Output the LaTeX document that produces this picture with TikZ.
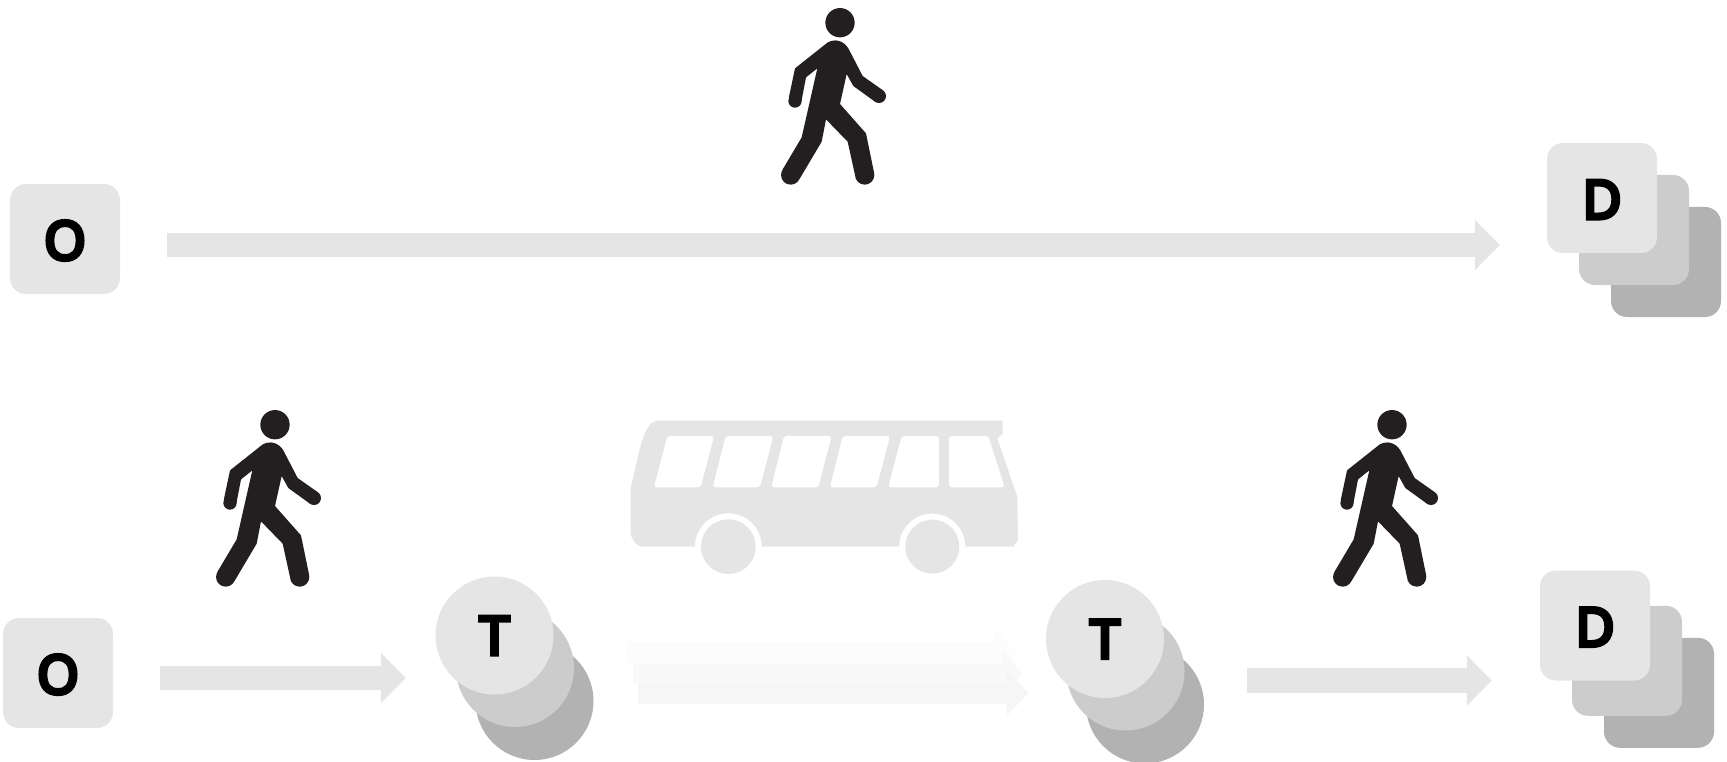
\documentclass[tikz,border=0pt]{standalone}
\usepackage{fontspec}
\setmainfont{Open Sans}
\newfontfamily\kartenfont[FakeBold=8]{Open Sans}
\usetikzlibrary{arrows.meta}
\definecolor{hellgrau}{RGB}{229,229,229}
\definecolor{mittelgrau}{RGB}{204,204,204}
\definecolor{dunkelgrau}{RGB}{178,178,178}
\definecolor{mygrey}{RGB}{35,31,32}
\definecolor{fahrta}{RGB}{252,252,252}
\definecolor{fahrtb}{RGB}{249,249,249}
\definecolor{fahrtc}{RGB}{246,246,246}
\tikzset{
	karte/.style={rounded corners=16pt, minimum size=110pt, inner sep=0pt, text=black, font=\fontsize{53}{60}\kartenfont, text height=41pt, text depth=0pt},
	kreis/.style={circle, minimum size=118pt, inner sep=0pt, text=black, font=\fontsize{53}{60}\kartenfont, text height=38pt, text depth=0pt},
	pfeil/.style={color=hellgrau, line width=24.6pt, -{Triangle[length=25pt,width=49pt]}},
	fahrt/.style={line width=21pt, -{Triangle[length=22pt,width=44pt]}},
	walker/.pic={
		\begin{scope}[x=.3333pt, y=-.3333pt, shift={(-300,-68)}, fill=mygrey]
			\fill (300,68) circle (44);
			\fill[rounded corners=.6pt] (262,128) .. controls (285,115) and (310,122) .. (325,145) -- (368,228) -- (429,271)
				-- (405,305) -- (340,258) -- (320,222) -- (300,312)
				-- (378,400) -- (403,522) -- (345,525) -- (323,425)
				-- (258,358) -- (245,425) -- (178,538) -- (127,510)
				-- (185,412) -- (232,205) -- (198,232) -- (184,305) -- (146,295)
				-- (165,205) -- cycle;
			% Haende und Fuesse
			\foreach \x/\y/\r in {417/288/21,165/303/20,374/525/29,152/525/29}
				\fill (\x,\y) circle (\r);
		\end{scope}
	}
}
\begin{document}
\begin{tikzpicture}[x=1pt, y=-1pt, >=latex]
				\useasboundingbox (0,0) rectangle (1727,762);
				\clip (0,0) rectangle (1727,762); %Bildbereich
				% Fussgaenger
				\pic (walkoben) at (840,22.7) {walker};
				\pic (walklinks) at (275,424.7) {walker};
				\pic (walkrechts) at (1392,424.7) {walker};
				% Ursprung
				\node[karte, fill=hellgrau] (o1) at (65,239) {O};
				\node[karte, fill=hellgrau] (o2) at (58,673) {O};
				% Ziele oben
				\node[karte, fill=dunkelgrau] (d1c) at (1666,262) {};
				\node[karte, fill=mittelgrau] (d1b) at (1634,230) {};
				\node[karte, fill=hellgrau] (d1) at (1602,198) {D};
				% Ziele unten
				\node[karte, fill=dunkelgrau] (d2c) at (1659,692.8) {};
				\node[karte, fill=mittelgrau] (d2b) at (1627,660.8) {};
				\node[karte, fill=hellgrau] (d2) at (1595,625.5) {D};
				% Umstiege
				\node[kreis, fill=dunkelgrau] (t1c) at (534.5,701) {};
				\node[kreis, fill=mittelgrau] (t1b) at (515,668) {};
				\node[kreis, fill=hellgrau] (t1) at (494.5,635.5) {T};
				\node[kreis, fill=dunkelgrau] (t2c) at (1145,704.5) {};
				\node[kreis, fill=mittelgrau] (t2b) at (1125.5,671.5) {};
				\node[kreis, fill=hellgrau] (t2) at (1105,639) {T};
				% Pfeile
				\draw[pfeil] ([xshift=47pt,yshift=-6pt]o1.east) -- ([xshift=-47pt,yshift=-47pt]d1.west);
				\draw[pfeil] ([xshift=47pt,yshift=-5pt]o2.east) -- ([xshift=-29.5pt,yshift=-42.5pt]t1.west);
				\draw[pfeil] ([xshift=83pt,yshift=-41.5pt]t2.east) -- ([xshift=-48pt,yshift=-55pt]d2.west);
				% Busfahrt
				\foreach \a/\b/\c/\d/\k in {73.5/-17/-29/-13.5/fahrta,79/-37.5/-22/-34/fahrtb,84/-57.5/-17/-54/fahrtc}
					\draw[fahrt, color=\k] ([xshift=\a pt,yshift=\b pt]t1.east) -- ([xshift=\c pt,yshift=\d pt]t2.west);
				% Bus
				\begin{scope}[shift={(610,400)}, x=.3333pt, y=-.3333pt]
					\fill[hellgrau] (140,62) -- (1178,62) -- (1178,102) -- (1162,115) -- (1222,290) -- (1224,420) -- (1210,440)
						-- (100,440) .. controls (80,440) and (70,425) .. (62,405) -- (62,262)
						.. controls (85,180) and (95,70) .. (140,62) -- cycle;
					\foreach \x/\r in {355/82,967/81}{
						\fill[white] (\x,440) circle (\r+18);
						\fill[hellgrau] (\x,440) circle (\r);
					}
					\foreach \a/\b/\c/\d in {172/312/272/132,347/490/450/308,522/665/625/484,698/840/800/660,875/987/987/835,1017/1135/1184/1017}
						\fill[white, rounded corners=3pt] (\a,108) -- (\b,108) -- (\c,262) -- (\d,262) -- cycle;
				\end{scope}
		\end{tikzpicture}
\end{document}
